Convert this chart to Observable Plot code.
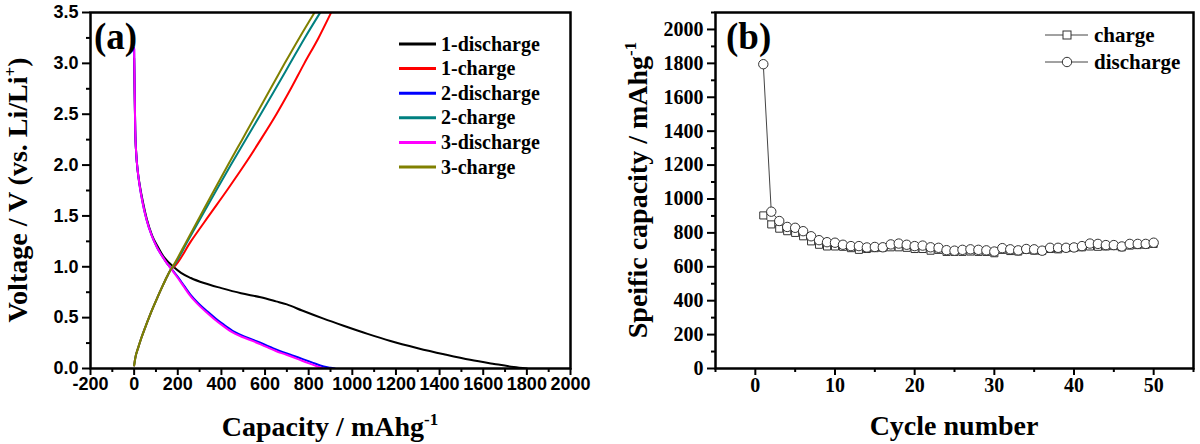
<!DOCTYPE html>
<html>
<head>
<meta charset="utf-8">
<script src="https://cdn.jsdelivr.net/npm/d3@7"></script>
<script src="https://cdn.jsdelivr.net/npm/@observablehq/plot@0.6"></script>
<style>
  html, body { margin: 0; padding: 0; background: white; }
  #wrap { display: flex; width: 1200px; height: 444px; }
</style>
</head>
<body>
<div id="wrap"><div id="pa"></div><div id="pb"></div></div>
<script>
// ---------- Panel (a) data: charge/discharge profiles ----------
const seriesA = ["1-discharge", "1-charge", "2-discharge", "2-charge", "3-discharge", "3-charge"];
const colorsA = ["#000000", "#ff0000", "#0000ff", "#008080", "#ff00ff", "#808000"];

const dis1Cap = [0, 2, 5, 10, 16, 26, 40, 58, 82, 108, 135, 160, 180, 215, 260, 320, 400, 490, 580, 650, 700, 770, 868, 960, 1070, 1175, 1300, 1420, 1540, 1650, 1740, 1800];
const dis1V   = [3.05, 2.75, 2.35, 2.1, 1.95, 1.8, 1.64, 1.47, 1.31, 1.2, 1.1, 1.04, 1.0, 0.94, 0.89, 0.84, 0.79, 0.74, 0.70, 0.66, 0.63, 0.57, 0.49, 0.42, 0.34, 0.27, 0.2, 0.14, 0.085, 0.045, 0.015, 0.0];

const chg1Cap = [0, 5, 18, 33, 50, 68, 87, 107, 128, 150, 170, 183, 260, 342, 425, 505, 580, 652, 718, 780, 845, 903];
const chg1V   = [0.03, 0.1, 0.2, 0.3, 0.4, 0.5, 0.6, 0.7, 0.8, 0.9, 0.98, 1.0, 1.25, 1.5, 1.75, 2.0, 2.25, 2.5, 2.75, 3.0, 3.25, 3.5];

const dis2Cap = [0, 2, 5, 10, 16, 25, 38, 56, 80, 105, 130, 155, 174, 200, 230, 258, 295, 335, 375, 411, 460, 510, 564, 620, 670, 717, 770, 820, 869, 900, 920];
const dis2V   = [3.14, 2.8, 2.35, 2.1, 1.95, 1.8, 1.64, 1.47, 1.31, 1.19, 1.1, 1.02, 0.973, 0.9, 0.81, 0.727, 0.64, 0.562, 0.49, 0.431, 0.36, 0.31, 0.266, 0.215, 0.17, 0.135, 0.095, 0.055, 0.02, 0.007, 0.0];

const chg2Cap = [0, 5, 18, 33, 50, 68, 87, 107, 128, 150, 170, 178, 245, 310, 376, 443, 511, 580, 648, 715, 782, 853];
const chg2V   = [0.03, 0.1, 0.2, 0.3, 0.4, 0.5, 0.6, 0.7, 0.8, 0.9, 0.98, 1.0, 1.25, 1.5, 1.75, 2.0, 2.25, 2.5, 2.75, 3.0, 3.25, 3.5];

const dis3Cap = [0, 2, 5, 10, 16, 25, 38, 56, 80, 105, 130, 155, 172, 197, 226, 253, 288, 326, 365, 400, 447, 496, 548, 603, 652, 698, 748, 795, 840, 868];
const dis3V   = [3.15, 2.8, 2.35, 2.1, 1.95, 1.8, 1.64, 1.47, 1.31, 1.19, 1.1, 1.02, 0.973, 0.9, 0.81, 0.727, 0.64, 0.562, 0.49, 0.431, 0.36, 0.31, 0.266, 0.215, 0.17, 0.135, 0.095, 0.055, 0.02, 0.0];

const chg3Cap = [0, 5, 18, 33, 50, 68, 87, 107, 128, 150, 170, 176, 240, 303, 366, 430, 495, 560, 625, 690, 757, 827];
const chg3V   = [0.03, 0.1, 0.2, 0.3, 0.4, 0.5, 0.6, 0.7, 0.8, 0.9, 0.98, 1.0, 1.25, 1.5, 1.75, 2.0, 2.25, 2.5, 2.75, 3.0, 3.25, 3.5];

const xMajorA = d3.range(-200, 2001, 200);
const xMinorA = d3.range(-100, 2000, 200);
const yMajorA = d3.range(0, 3.51, 0.5);
const yMinorA = d3.range(0.25, 3.5, 0.5);

// ---------- Panel (b) data: cycling ----------
const cycles = d3.range(1, 51);
const chargeCap = [903, 850, 825, 810, 800, 780, 750, 730, 720, 720, 718, 710, 700, 705, 710, 712, 715, 715, 712, 705,
                   705, 695, 700, 688, 688, 688, 690, 688, 688, 680, 700, 693, 690, 700, 695, 693, 705, 703, 710, 712,
                   715, 720, 718, 720, 722, 715, 725, 728, 730, 735];
const dischargeCap = [1795, 925, 870, 835, 830, 810, 780, 757, 745, 742, 730, 722, 722, 714, 717, 715, 732, 737, 730, 722,
                      725, 715, 712, 698, 695, 700, 703, 700, 697, 690, 710, 703, 697, 705, 703, 695, 712, 712, 712, 714,
                      722, 737, 735, 728, 728, 720, 735, 735, 735, 742];
const seriesB = ["charge", "discharge"];
const xMajorB = [0, 10, 20, 30, 40, 50];
const xMinorB = [-5, 5, 15, 25, 35, 45, 55];
const yMajorB = d3.range(0, 2001, 200);
const yMinorB = d3.range(100, 2101, 200);

// ---------- build tables ----------
const pairsA = [[dis1Cap, dis1V], [chg1Cap, chg1V], [dis2Cap, dis2V], [chg2Cap, chg2V], [dis3Cap, dis3V], [chg3Cap, chg3V]];
const tableA = pairsA.flatMap(([c, v], i) => c.map((x, j) => ({series: seriesA[i], cap: x, v: v[j]})));
const tableB = [
  ...cycles.map((c, i) => ({type: "charge", cycle: c, cap: chargeCap[i]})),
  ...cycles.map((c, i) => ({type: "discharge", cycle: c, cap: dischargeCap[i]}))
];

const serif = "'Liberation Serif', 'Times New Roman', serif";
const sans = "'Liberation Sans', Arial, sans-serif";

const plotA = Plot.plot({
  width: 600, height: 444,
  marginLeft: 90, marginRight: 30, marginTop: 12, marginBottom: 76,
  style: {background: "white", color: "black", overflow: "visible"},
  x: {domain: [-200, 2000], label: null},
  y: {domain: [0, 3.5], label: null},
  color: {domain: seriesA, range: colorsA},
  marks: [
    Plot.axisX(xMinorA, {tickSize: 4, strokeWidth: 2, tickFormat: () => "", label: null}),
    Plot.axisX(xMajorA, {tickSize: 7, strokeWidth: 2, tickPadding: 2, tickFormat: d => String(d),
      fontSize: 18, fontWeight: "bold", fontFamily: sans, label: null}),
    Plot.axisY(yMinorA, {tickSize: 4, strokeWidth: 2, tickFormat: () => "", label: null}),
    Plot.axisY(yMajorA, {tickSize: 8, strokeWidth: 2, tickPadding: 4, tickFormat: d3.format(".1f"),
      fontSize: 18, fontWeight: "bold", fontFamily: sans, label: null}),
    ...seriesA.map(s => Plot.line(tableA.filter(d => d.series === s),
      {x: "cap", y: "v", stroke: "series", strokeWidth: 2, curve: "monotone-x", clip: true})),
    Plot.frame({stroke: "black", strokeWidth: 2.5})
  ]
});

const plotB = Plot.plot({
  width: 600, height: 444,
  marginLeft: 115, marginRight: 7, marginTop: 12, marginBottom: 76,
  style: {background: "white", color: "black", overflow: "visible"},
  x: {domain: [-5, 55], label: null},
  y: {domain: [0, 2100], label: null},
  marks: [
    Plot.axisX(xMinorB, {tickSize: 4, strokeWidth: 2, tickFormat: () => "", label: null}),
    Plot.axisX(xMajorB, {tickSize: 7, strokeWidth: 2, tickPadding: 2, tickFormat: d => String(d),
      fontSize: 20, fontWeight: "bold", fontFamily: serif, label: null}),
    Plot.axisY(yMinorB, {tickSize: 4, strokeWidth: 2, tickFormat: () => "", label: null}),
    Plot.axisY(yMajorB, {tickSize: 8, strokeWidth: 2, tickPadding: 4, tickFormat: d => String(d),
      fontSize: 20, fontWeight: "bold", fontFamily: serif, label: null}),
    Plot.line(tableB, {x: "cycle", y: "cap", z: "type", stroke: "#444", strokeWidth: 1}),
    Plot.dot(tableB.filter(d => d.type === "charge"), {x: "cycle", y: "cap", symbol: "square", r: 4, fill: "white", stroke: "#333", strokeWidth: 1}),
    Plot.dot(tableB.filter(d => d.type === "discharge"), {x: "cycle", y: "cap", symbol: "circle", r: 4.7, fill: "white", stroke: "#333", strokeWidth: 1}),
    Plot.frame({stroke: "black", strokeWidth: 2.5})
  ]
});

document.getElementById("pa").appendChild(plotA);
document.getElementById("pb").appendChild(plotB);

// ---------- titles, panel labels, legends ----------
function title(svg, x, y, rot, main, sup, tail, size) {
  const t = d3.select(svg).append("text")
    .attr("transform", `translate(${x},${y})` + (rot ? ` rotate(${rot})` : ""))
    .attr("text-anchor", "middle")
    .attr("fill", "black")
    .style("font-family", serif).style("font-weight", "bold").style("font-size", size + "px");
  t.append("tspan").text(main);
  if (sup) t.append("tspan").attr("dy", -11).style("font-size", Math.round(size * 0.6) + "px").text(sup);
  if (tail) t.append("tspan").attr("dy", 11).text(tail);
}
title(plotA, 330, 436, 0, "Capacity / mAhg", "-1", "", 28);
title(plotA, 27, 190, -90, "Voltage / V (vs. Li/Li", "+", ")", 28);
title(plotB, 354, 435, 0, "Cycle number", "", "", 28);
title(plotB, 47, 190, -90, "Speific capacity / mAhg", "-1", "", 28);

function panelLabel(svg, x, txt) {
  d3.select(svg).append("text").attr("x", x).attr("y", 49).attr("fill", "black")
    .attr("text-anchor", "start")
    .style("font-family", serif).style("font-weight", "bold").style("font-size", "37px").text(txt);
}
panelLabel(plotA, 94, "(a)");
panelLabel(plotB, 126, "(b)");

// legend (a)
const legA = d3.select(plotA).append("g");
seriesA.forEach((s, i) => {
  const y = 44 + i * 24.6;
  legA.append("line").attr("x1", 399).attr("x2", 436).attr("y1", y).attr("y2", y)
    .attr("stroke", colorsA[i]).attr("stroke-width", 3);
  legA.append("text").attr("x", 441).attr("y", y).attr("dy", "0.33em").attr("fill", "black")
    .attr("text-anchor", "start")
    .style("font-family", serif).style("font-weight", "bold").style("font-size", "20px").text(s);
});

// legend (b)
const legB = d3.select(plotB).append("g");
seriesB.forEach((s, i) => {
  const y = 35 + i * 27;
  legB.append("line").attr("x1", 445).attr("x2", 488).attr("y1", y).attr("y2", y)
    .attr("stroke", "#444").attr("stroke-width", 1);
  if (s === "charge") {
    legB.append("rect").attr("x", 463).attr("y", y - 4).attr("width", 8).attr("height", 8)
      .attr("fill", "white").attr("stroke", "#333");
  } else {
    legB.append("circle").attr("cx", 467).attr("cy", y).attr("r", 4.7)
      .attr("fill", "white").attr("stroke", "#333");
  }
  legB.append("text").attr("x", 494).attr("y", y).attr("dy", "0.33em").attr("fill", "black")
    .attr("text-anchor", "start")
    .style("font-family", serif).style("font-weight", "bold").style("font-size", "21px").text(s);
});
</script>
</body>
</html>
